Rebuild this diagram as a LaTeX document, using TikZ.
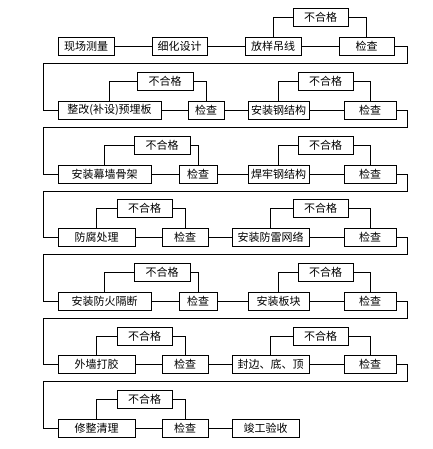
\documentclass[tikz,border=0pt]{standalone}
\usepackage{fontspec}
\newfontfamily\cjk{Noto Sans CJK SC}
\begin{document}
\begin{tikzpicture}[x=1pt,y=-1pt,line width=0.9pt,
  box/.style={draw, line width=0.9pt, minimum height=18pt, inner sep=0pt, font=\cjk\fontsize{11}{11}\selectfont},
  link/.style={draw, line width=0.9pt}]
\useasboundingbox (0,0) rectangle (432,449);
% Row 1
\node[box, minimum width=56pt] (a1) at (86,46) {现场测量};
\node[box, minimum width=55pt] (a2) at (179.5,46) {细化设计};
\node[box, minimum width=56pt] (a3) at (273,46) {放样吊线};
\node[box, minimum width=55pt] (a4) at (366.5,46) {检查};
\node[box, minimum width=55pt] (n1) at (320.5,17.5) {不合格};
% Row 2
\node[box, minimum width=103pt] (b1) at (109.5,110) {整改(补设)预埋板};
\node[box, minimum width=36pt] (b2) at (206,110) {检查};
\node[box, minimum width=61pt] (b3) at (278.5,110) {安装钢结构};
\node[box, minimum width=52pt] (b4) at (370,110) {检查};
\node[box, minimum width=56pt] (n2a) at (165,81) {不合格};
\node[box, minimum width=55pt] (n2b) at (325.5,81) {不合格};
% Row 3
\node[box, minimum width=93pt] (c1) at (104.5,174) {安装幕墙骨架};
\node[box, minimum width=38pt] (c2) at (198,174) {检查};
\node[box, minimum width=61pt] (c3) at (278.5,174) {焊牢钢结构};
\node[box, minimum width=52pt] (c4) at (370,174) {检查};
\node[box, minimum width=56pt] (n3a) at (162,145) {不合格};
\node[box, minimum width=55pt] (n3b) at (325.5,145) {不合格};
% Row 4
\node[box, minimum width=77pt] (d1) at (96.5,237) {防腐处理};
\node[box, minimum width=46pt] (d2) at (185,237) {检查};
\node[box, minimum width=77pt] (d3) at (270.5,237) {安装防雷网络};
\node[box, minimum width=52pt] (d4) at (370,237) {检查};
\node[box, minimum width=55pt] (n4a) at (144.5,208) {不合格};
\node[box, minimum width=55pt] (n4b) at (320.5,208) {不合格};
% Row 5
\node[box, minimum width=93pt] (e1) at (104.5,301) {安装防火隔断};
\node[box, minimum width=38pt] (e2) at (198,301) {检查};
\node[box, minimum width=61pt] (e3) at (278.5,301) {安装板块};
\node[box, minimum width=52pt] (e4) at (370,301) {检查};
\node[box, minimum width=56pt] (n5a) at (162,272) {不合格};
\node[box, minimum width=55pt] (n5b) at (325.5,272) {不合格};
% Row 6
\node[box, minimum width=77pt] (f1) at (96.5,364) {外墙打胶};
\node[box, minimum width=46pt] (f2) at (185,364) {检查};
\node[box, minimum width=77pt] (f3) at (270.5,364) {封边、底、顶};
\node[box, minimum width=52pt] (f4) at (370,364) {检查};
\node[box, minimum width=55pt] (n6a) at (144.5,336) {不合格};
\node[box, minimum width=55pt] (n6b) at (320.5,336) {不合格};
% Row 7
\node[box, minimum width=77pt] (g1) at (96.5,428) {修整清理};
\node[box, minimum width=46pt] (g2) at (185,428) {检查};
\node[box, minimum width=67pt] (g3) at (265.5,428) {竣工验收};
\node[box, minimum width=55pt] (n7a) at (144.5,399) {不合格};

% horizontal chains
\draw[link] (a1) -- (a2); \draw[link] (a2) -- (a3); \draw[link] (a3) -- (a4);
\draw[link] (b1) -- (b2); \draw[link] (b2) -- (b3); \draw[link] (b3) -- (b4);
\draw[link] (c1) -- (c2); \draw[link] (c2) -- (c3); \draw[link] (c3) -- (c4);
\draw[link] (d1) -- (d2); \draw[link] (d2) -- (d3); \draw[link] (d3) -- (d4);
\draw[link] (e1) -- (e2); \draw[link] (e2) -- (e3); \draw[link] (e3) -- (e4);
\draw[link] (f1) -- (f2); \draw[link] (f2) -- (f3); \draw[link] (f3) -- (f4);
\draw[link] (g1) -- (g2); \draw[link] (g2) -- (g3);

% rework loops
\draw[link] (a3.north) |- (n1.west); \draw[link] (n1.east) -| (a4.north);
\draw[link] (b1.north) |- (n2a.west); \draw[link] (n2a.east) -| (b2.north);
\draw[link] (b3.north) |- (n2b.west); \draw[link] (n2b.east) -| (b4.north);
\draw[link] (c1.north) |- (n3a.west); \draw[link] (n3a.east) -| (c2.north);
\draw[link] (c3.north) |- (n3b.west); \draw[link] (n3b.east) -| (c4.north);
\draw[link] (d1.north) |- (n4a.west); \draw[link] (n4a.east) -| (d2.north);
\draw[link] (d3.north) |- (n4b.west); \draw[link] (n4b.east) -| (d4.north);
\draw[link] (e1.north) |- (n5a.west); \draw[link] (n5a.east) -| (e2.north);
\draw[link] (e3.north) |- (n5b.west); \draw[link] (n5b.east) -| (e4.north);
\draw[link] (f1.north) |- (n6a.west); \draw[link] (n6a.east) -| (f2.north);
\draw[link] (f3.north) |- (n6b.west); \draw[link] (n6b.east) -| (f4.north);
\draw[link] (g1.north) |- (n7a.west); \draw[link] (n7a.east) -| (g2.north);

% row wraps
\coordinate (w1r) at (407,63);  \coordinate (w1l) at (43,63);
\coordinate (w2r) at (407,127); \coordinate (w2l) at (43,127);
\coordinate (w3r) at (407,191); \coordinate (w3l) at (43,191);
\coordinate (w4r) at (407,254); \coordinate (w4l) at (43,254);
\coordinate (w5r) at (407,318); \coordinate (w5l) at (43,318);
\coordinate (w6r) at (407,381); \coordinate (w6l) at (43,381);
\draw[link] (a4.east) -| (w1r) -- (w1l) |- (b1.west);
\draw[link] (b4.east) -| (w2r) -- (w2l) |- (c1.west);
\draw[link] (c4.east) -| (w3r) -- (w3l) |- (d1.west);
\draw[link] (d4.east) -| (w4r) -- (w4l) |- (e1.west);
\draw[link] (e4.east) -| (w5r) -- (w5l) |- (f1.west);
\draw[link] (f4.east) -| (w6r) -- (w6l) |- (g1.west);
\end{tikzpicture}
\end{document}
